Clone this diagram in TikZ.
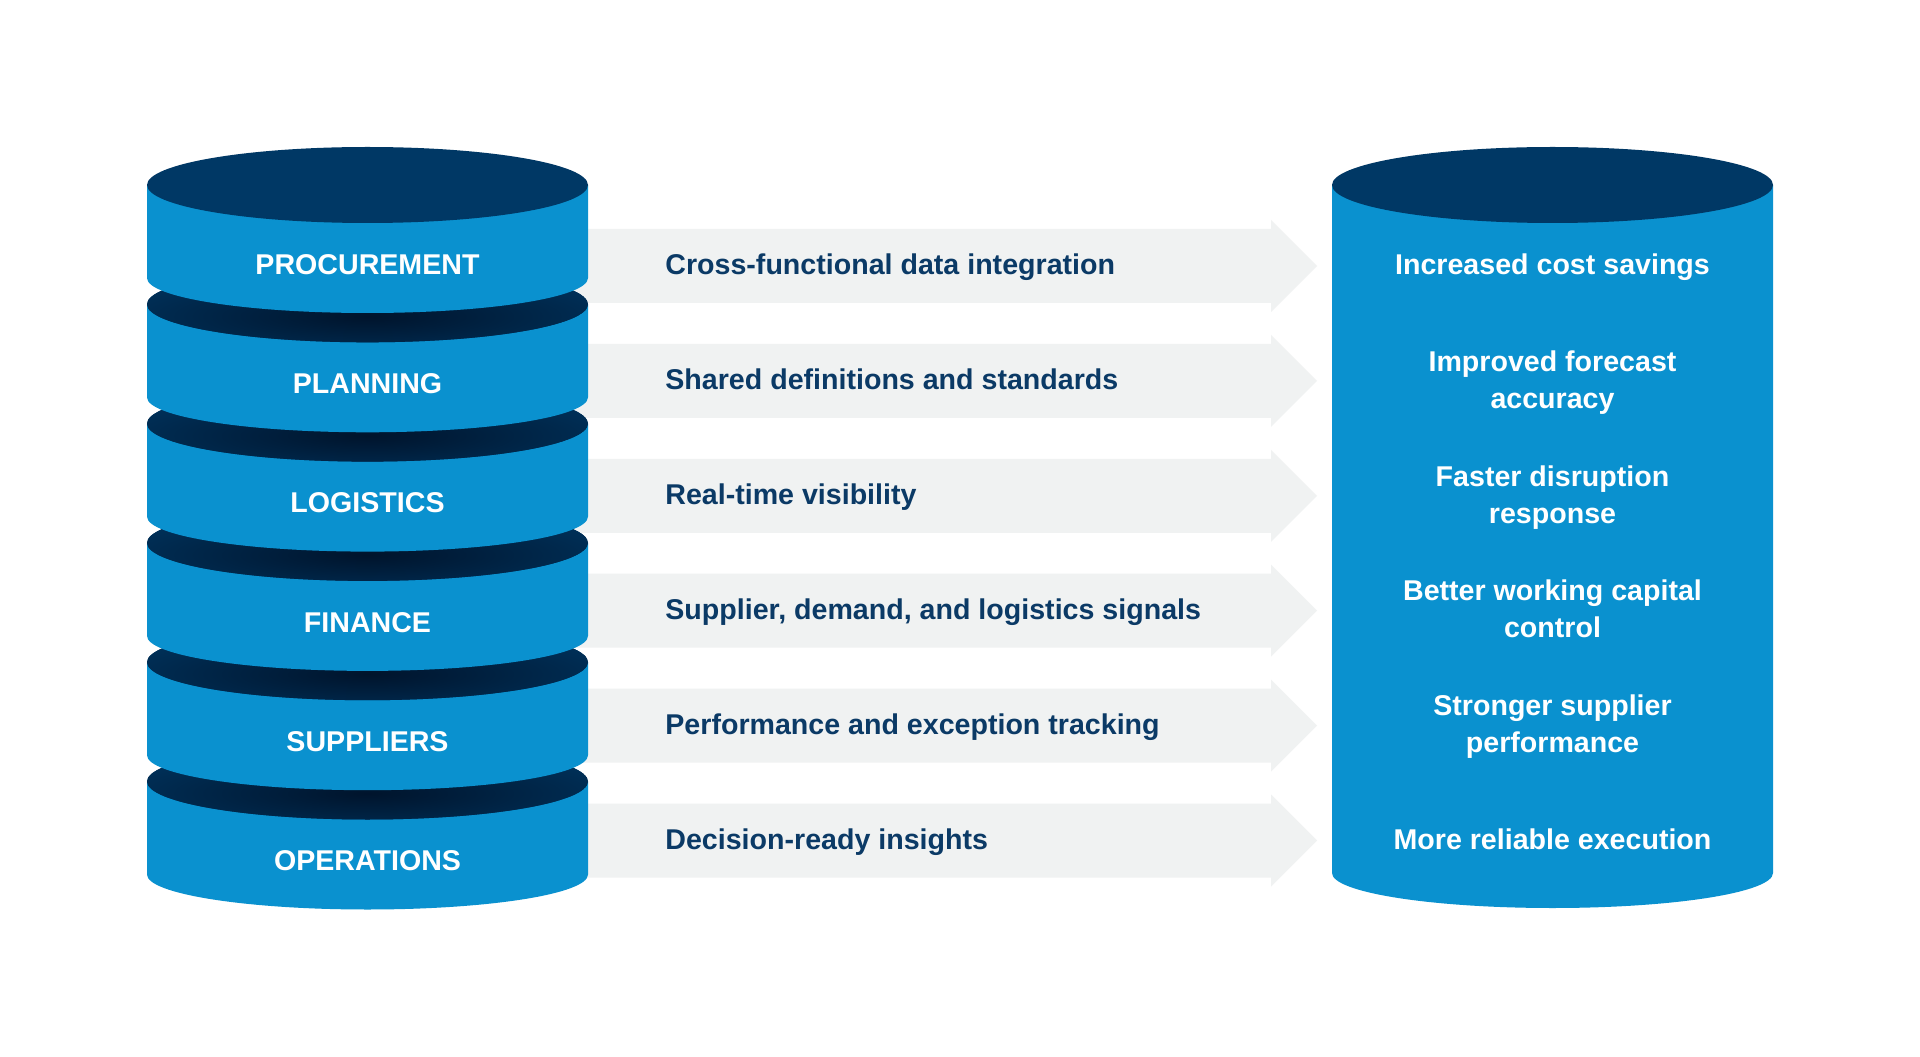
\documentclass[tikz,border=0pt]{standalone}
\usepackage{fontspec}
\setmainfont{Liberation Sans}
\definecolor{navy}{HTML}{003865}
\definecolor{navydeep}{HTML}{00142C}
\definecolor{cylblue}{HTML}{0A91CF}
\definecolor{bandgray}{HTML}{F0F2F2}
\definecolor{txtnavy}{HTML}{0B3A66}
\begin{document}
\begin{tikzpicture}[x=0.5pt,y=0.5pt,
  lbl/.style={font=\fontsize{14.3}{18.5}\selectfont\bfseries, inner sep=0pt},
  disklbl/.style={lbl, text=white},
  bandlbl/.style={lbl, text=txtnavy, anchor=base west},
  outlbl/.style={lbl, text=white, align=center},
  bandshape/.style={fill=bandgray},
  sideshape/.style={fill=cylblue},
]
\useasboundingbox[fill=white] (0,0) rectangle (1920,1056);

% arrow bands
\foreach \i in {0,...,5}{
  \pgfmathsetmacro\c{1056-266-114.9*\i}
  \path[bandshape] (560,\c+37) -- (1271,\c+37) -- (1271,\c+46) -- (1317,\c)
     -- (1271,\c-46) -- (1271,\c-37) -- (560,\c-37) -- cycle;
}

% left stack of disks, drawn bottom first
\foreach \i in {5,4,...,0}{
  \pgfmathsetmacro\yc{1056-185-119.3*\i}
  \path[sideshape] (147,\yc) -- (147,\yc-93)
     arc[start angle=180,end angle=360,x radius=220.5,y radius=35]
     -- (588,\yc) -- cycle;
  \ifnum\i=0
    \fill[navy] (367.5,\yc) ellipse[x radius=220.5,y radius=38];
  \else
    \begin{scope}
      \clip (367.5,\yc) ellipse[x radius=220.5,y radius=38];
      \fill[navy] (367.5,\yc) ellipse[x radius=220.5,y radius=38];
      \shade[inner color=navydeep,outer color=navy] (367.5,\yc-12) ellipse[x radius=340,y radius=56];
    \end{scope}
  \fi
}

% right cylinder
\path[sideshape] (1332,871) -- (1332,183)
   arc[start angle=180,end angle=360,x radius=220.5,y radius=35]
   -- (1773,871) -- cycle;
\fill[navy] (1552.5,871) ellipse[x radius=220.5,y radius=38];

% disk labels
\node[disklbl] (procurement) at (367.5,791.5) {PROCUREMENT};
\node[disklbl] (planning)    at (367.5,672.2) {PLANNING};
\node[disklbl] (logistics)   at (367.5,552.9) {LOGISTICS};
\node[disklbl] (finance)     at (367.5,433.6) {FINANCE};
\node[disklbl] (suppliers)   at (367.5,314.3) {SUPPLIERS};
\node[disklbl] (operations)  at (367.5,195.0) {OPERATIONS};

% band labels
\node[bandlbl] (b1) at (665,781.0) {Cross-functional data integration};
\node[bandlbl] (b2) at (665,666.1) {Shared definitions and standards};
\node[bandlbl] (b3) at (665,551.2) {Real-time visibility};
\node[bandlbl] (b4) at (665,436.3) {Supplier, demand, and logistics signals};
\node[bandlbl] (b5) at (665,321.4) {Performance and exception tracking};
\node[bandlbl] (b6) at (665,206.5) {Decision-ready insights};

% outcome labels
\node[outlbl, anchor=base] (o1) at (1552.5,781.0) {Increased cost savings};
\node[outlbl] (o2) at (1552.5,673.6) {Improved forecast\\accuracy};
\node[outlbl] (o3) at (1552.5,558.7) {Faster disruption\\response};
\node[outlbl] (o4) at (1552.5,446.8) {Better working capital\\control};
\node[outlbl] (o5) at (1552.5,328.9) {Stronger supplier\\performance};
\node[outlbl, anchor=base] (o6) at (1552.5,206.5) {More reliable execution};
\end{tikzpicture}
\end{document}
